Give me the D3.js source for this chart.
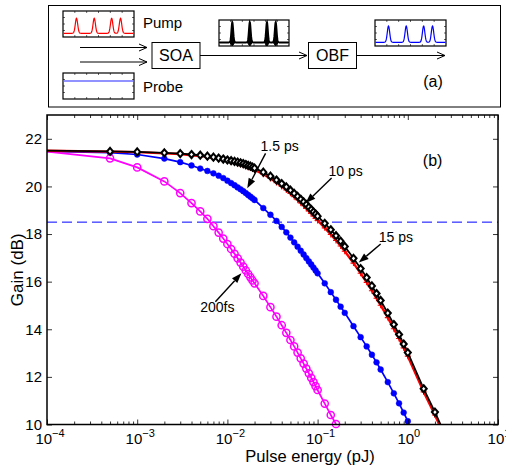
<!DOCTYPE html>
<html>
<head>
<meta charset="utf-8">
<script src="https://cdn.jsdelivr.net/npm/d3@7"></script>
<style>
  body { margin: 0; background: #fff; }
  svg { display: block; font-family: "Liberation Sans", Arial, sans-serif; }
</style>
</head>
<body>
<svg width="506" height="466"></svg>
<script>
// pulse energy grid (pJ), shared by all curves
const energy = [1e-4, 5e-4, 1e-3, 2e-3, 3e-3, 4e-3, 5e-3, 6e-3, 7e-3, 8e-3, 9e-3,
  0.010, 0.011, 0.012, 0.013, 0.014, 0.015, 0.016, 0.017, 0.018, 0.019, 0.020,
  0.025, 0.030, 0.035, 0.040, 0.045, 0.050, 0.055, 0.060, 0.065, 0.070, 0.075,
  0.080, 0.085, 0.090, 0.095, 0.100, 0.12, 0.14, 0.16, 0.18, 0.20,
  0.25, 0.30, 0.35, 0.40, 0.45, 0.50, 0.6, 0.7, 0.8, 0.9, 1.0, 1.5, 2.0, 2.5];

// gain (dB)
const gain200fs = [21.46, 21.18, 20.80, 20.21, 19.72, 19.30, 18.95, 18.64, 18.33, 18.06, 17.81,
  17.58, 17.37, 17.17, 16.98, 16.80, 16.63, 16.47, 16.32, 16.18, 16.05, 15.93,
  15.40, 14.93, 14.53, 14.17, 13.85, 13.55, 13.28, 13.02, 12.78, 12.56, 12.35,
  12.15, 11.96, 11.78, 11.61, 11.45, 10.88, 10.40, 10.02];

const gain1p5ps = [21.47, 21.42, 21.34, 21.17, 21.02, 20.88, 20.75, 20.65, 20.55, 20.45, 20.35,
  20.24, 20.14, 20.05, 19.96, 19.88, 19.80, 19.72, 19.64, 19.57, 19.50, 19.43,
  19.09, 18.81, 18.55, 18.30, 18.07, 17.85, 17.65, 17.47, 17.30, 17.14, 16.99,
  16.85, 16.72, 16.59, 16.47, 16.35, 15.93, 15.56, 15.24, 14.95, 14.69,
  14.13, 13.67, 13.28, 12.93, 12.61, 12.31, 11.78, 11.31, 10.89, 10.50, 10.14];

const gain10ps = [21.50, 21.46, 21.44, 21.39, 21.36, 21.31, 21.28, 21.24, 21.20, 21.15, 21.11,
  21.07, 21.03, 21.00, 20.96, 20.93, 20.89, 20.85, 20.81, 20.77, 20.73, 20.69,
  20.51, 20.33, 20.16, 20.00, 19.85, 19.71, 19.57, 19.44, 19.31, 19.19, 19.08,
  18.97, 18.86, 18.76, 18.66, 18.57, 18.26, 17.98, 17.73, 17.50, 17.28,
  16.78, 16.35, 15.97, 15.62, 15.30, 15.01, 14.49, 14.02, 13.61, 13.22, 12.87,
  11.37, 10.40, 9.58];

const gain15ps = [21.50, 21.47, 21.45, 21.41, 21.38, 21.34, 21.31, 21.27, 21.23, 21.19, 21.15,
  21.11, 21.08, 21.05, 21.02, 20.99, 20.96, 20.92, 20.88, 20.85, 20.81, 20.77,
  20.60, 20.43, 20.27, 20.12, 19.98, 19.84, 19.71, 19.58, 19.46, 19.35, 19.24,
  19.13, 19.03, 18.93, 18.84, 18.75, 18.45, 18.18, 17.93, 17.70, 17.48,
  16.98, 16.55, 16.17, 15.82, 15.50, 15.21, 14.68, 14.20, 13.78, 13.38, 13.02,
  11.50, 10.52, 9.70];

const gainRef = 18.5;
const yTicks = [10, 12, 14, 16, 18, 20, 22];
const xTickExps = [-4, -3, -2, -1, 0, 1];
// where the four pulses sit inside each little inset (fraction of width)
const pulseSlots = [0.19, 0.44, 0.685, 0.81];

(function (d3) {
  'use strict';
  const svg = d3.select('svg');
  const plot = { left: 47, right: 498, top: 115, bottom: 424.5 };

  const xScale = d3.scaleLog().domain([1e-4, 10]).range([plot.left, plot.right]);
  const yScale = d3.scaleLinear().domain([10, 23]).range([plot.bottom, plot.top]);

  // ---------- panel (a): schematic ----------
  const pa = svg.append('g').attr('fill', 'none').attr('stroke', 'black');
  pa.append('rect')
    .attr('x', 48.5).attr('y', 5.5).attr('width', 452).attr('height', 101.5);

  const inset = (x, y, w, h) => {
    pa.append('rect').attr('x', x).attr('y', y).attr('width', w).attr('height', h)
      .attr('stroke-width', 1.2);
    d3.range(1, 6).forEach(i => {
      const tx = x + i * w / 6;
      pa.append('line').attr('x1', tx).attr('x2', tx).attr('y1', y).attr('y2', y + 2).attr('stroke-width', 0.6);
      pa.append('line').attr('x1', tx).attr('x2', tx).attr('y1', y + h).attr('y2', y + h - 2).attr('stroke-width', 0.6);
    });
    d3.range(1, 4).forEach(i => {
      const ty = y + i * h / 4;
      pa.append('line').attr('x1', x).attr('x2', x + 2).attr('y1', ty).attr('y2', ty).attr('stroke-width', 0.6);
      pa.append('line').attr('x1', x + w).attr('x2', x + w - 2).attr('y1', ty).attr('y2', ty).attr('stroke-width', 0.6);
    });
  };

  const pulsePath = (x0, w, base, peak, sigma) => {
    const pts = d3.range(0.5, w - 0.4, 0.25).map(t => {
      const v = d3.sum(pulseSlots, s => Math.exp(-((t - s * w) ** 2) / (2 * sigma * sigma)));
      return [x0 + t, base - (base - peak) * v];
    });
    return d3.line()(pts);
  };

  const openArrow = (x1, y, x2) => {
    pa.append('line').attr('x1', x1).attr('x2', x2).attr('y1', y).attr('y2', y);
    pa.append('path').attr('d', `M${x2 - 8},${y - 3.5}L${x2},${y}L${x2 - 8},${y + 3.5}`);
  };

  // pump
  inset(63, 11, 71, 26);
  pa.append('path').attr('d', pulsePath(63, 71, 33.3, 18.3, 1.2))
    .attr('stroke', 'red').attr('stroke-width', 1.2);
  // probe
  inset(63, 73, 71, 26);
  pa.append('line').attr('x1', 63.5).attr('x2', 133.5).attr('y1', 81).attr('y2', 81)
    .attr('stroke', '#6c6cff').attr('stroke-width', 1.6);
  // SOA output
  inset(219, 20, 70, 26);
  pa.append('line').attr('x1', 219).attr('x2', 289).attr('y1', 42.5).attr('y2', 42.5);
  pa.append('path').attr('d', pulsePath(219, 70, 42.5, 22, 0.9))
    .attr('fill', 'black').attr('stroke-width', 1.8);
  pulseSlots.forEach(s => {
    const cx = 219 + s * 70;
    pa.append('path').attr('d', `M${cx - 2.5},42.5L${cx + 2.5},42.5L${cx},46Z`).attr('fill', 'black');
  });
  // filtered output
  inset(375, 20, 71, 26);
  pa.append('path').attr('d', pulsePath(375, 71, 42.3, 26, 1.2))
    .attr('stroke', 'blue').attr('stroke-width', 1.2);

  openArrow(80, 47.5, 147);
  openArrow(80, 62, 147);
  pa.append('rect').attr('x', 152).attr('y', 42.5).attr('width', 48).attr('height', 26);
  openArrow(200, 55.5, 307);
  pa.append('rect').attr('x', 308.5).attr('y', 42.5).attr('width', 48).attr('height', 26);
  openArrow(356.5, 55.5, 445);

  const ta = svg.append('g').attr('fill', 'black');
  ta.append('text').attr('x', 143).attr('y', 28).attr('font-size', 15).text('Pump');
  ta.append('text').attr('x', 143).attr('y', 91.5).attr('font-size', 15).text('Probe');
  ta.append('text').attr('x', 176).attr('y', 60.5).attr('font-size', 16)
    .attr('text-anchor', 'middle').text('SOA');
  ta.append('text').attr('x', 332.5).attr('y', 60.5).attr('font-size', 16)
    .attr('text-anchor', 'middle').text('OBF');
  ta.append('text').attr('x', 433).attr('y', 87).attr('font-size', 16)
    .attr('text-anchor', 'middle').text('(a)');

  // ---------- panel (b): gain curves ----------
  svg.append('clipPath').attr('id', 'plotClip')
    .append('rect')
      .attr('x', plot.left).attr('y', plot.top)
      .attr('width', plot.right - plot.left).attr('height', plot.bottom - plot.top);

  // reference gain
  svg.append('line')
    .attr('x1', plot.left).attr('x2', plot.right)
    .attr('y1', yScale(gainRef)).attr('y2', yScale(gainRef))
    .attr('stroke', 'blue').attr('stroke-width', 1)
    .attr('stroke-dasharray', '10,5');

  const series = [
    { gains: gain1p5ps, color: 'blue', width: 1.7, marker: 'dot' },
    { gains: gain200fs, color: 'magenta', width: 1.7, marker: 'circle' },
    { gains: gain10ps, color: 'red', width: 2.4, marker: 'plus' },
    { gains: gain15ps, color: 'black', width: 1.8, marker: 'diamond' }
  ];

  const line = d3.line()
    .x(d => xScale(d.e))
    .y(d => yScale(d.g));

  const markerShapes = {
    diamond: 'M0,-3.5L3,0L0,3.5L-3,0Z',
    plus: 'M-3,0H3M0,-3V3'
  };

  series.forEach(s => {
    const pts = s.gains.map((g, i) => ({ e: energy[i], g }));
    svg.append('path')
      .attr('clip-path', 'url(#plotClip)')
      .attr('d', line(pts))
      .attr('fill', 'none')
      .attr('stroke', s.color)
      .attr('stroke-width', s.width)
      .attr('stroke-linejoin', 'round');

    const shown = pts.filter((d, i) => i > 0 && d.g >= 10);
    const mg = svg.append('g');
    if (s.marker === 'dot' || s.marker === 'circle') {
      mg.selectAll('circle').data(shown)
        .enter().append('circle')
          .attr('cx', d => xScale(d.e))
          .attr('cy', d => yScale(d.g))
          .attr('r', s.marker === 'dot' ? 2.9 : 3.6)
          .attr('fill', s.marker === 'dot' ? s.color : 'none')
          .attr('stroke', s.color)
          .attr('stroke-width', s.marker === 'dot' ? 0.5 : 1.5);
    } else {
      mg.selectAll('path').data(shown)
        .enter().append('path')
          .attr('transform', d => `translate(${xScale(d.e)},${yScale(d.g)})`)
          .attr('d', markerShapes[s.marker])
          .attr('fill', s.marker === 'diamond' ? 'white' : 'none')
          .attr('stroke', s.color)
          .attr('stroke-width', s.marker === 'diamond' ? 2.1 : 1.1);
    }
  });

  // frame and ticks (MATLAB style, ticks inside)
  const majors = xTickExps.map(p => Math.pow(10, p));
  const minors = xScale.ticks().filter(v => !majors.some(m => Math.abs(m - v) / m < 1e-6));

  const stripAxis = g => {
    g.select('.domain').remove();
    g.selectAll('line').attr('stroke', 'black').attr('stroke-width', 0.8);
  };

  svg.append('g').attr('transform', `translate(0,${plot.bottom})`)
    .call(d3.axisBottom(xScale).tickValues(majors).tickSize(-5).tickFormat(''))
    .call(stripAxis);
  svg.append('g').attr('transform', `translate(0,${plot.bottom})`)
    .call(d3.axisBottom(xScale).tickValues(minors).tickSize(-3).tickFormat(''))
    .call(stripAxis);
  svg.append('g').attr('transform', `translate(0,${plot.top})`)
    .call(d3.axisTop(xScale).tickValues(majors).tickSize(-5).tickFormat(''))
    .call(stripAxis);
  svg.append('g').attr('transform', `translate(0,${plot.top})`)
    .call(d3.axisTop(xScale).tickValues(minors).tickSize(-3).tickFormat(''))
    .call(stripAxis);

  svg.append('g').attr('transform', `translate(${plot.left},0)`)
    .call(d3.axisLeft(yScale).tickValues(yTicks).tickSize(-5).tickPadding(5))
    .call(stripAxis)
    .call(g => g.selectAll('text')
      .attr('font-size', 15).attr('font-family', null).attr('fill', 'black'));
  svg.append('g').attr('transform', `translate(${plot.right},0)`)
    .call(d3.axisRight(yScale).tickValues(yTicks).tickSize(-5).tickFormat(''))
    .call(stripAxis);

  svg.append('rect')
    .attr('x', plot.left).attr('y', plot.top)
    .attr('width', plot.right - plot.left).attr('height', plot.bottom - plot.top)
    .attr('fill', 'none').attr('stroke', 'black').attr('stroke-width', 1.5);

  // x tick labels: 10^n
  const xLabels = svg.append('g');
  xTickExps.forEach(p => {
    const t = xLabels.append('text')
      .attr('x', xScale(Math.pow(10, p)) + (p < 0 ? 3 : 1))
      .attr('y', 443.5)
      .attr('text-anchor', 'middle')
      .attr('font-size', 15);
    t.append('tspan').text('10');
    t.append('tspan').attr('dy', -7).attr('font-size', 11)
      .text(p < 0 ? '\u2212' + (-p) : String(p));
  });

  svg.append('text')
    .attr('x', 310).attr('y', 461.5)
    .attr('text-anchor', 'middle').attr('font-size', 16.5)
    .text('Pulse energy (pJ)');
  svg.append('text')
    .attr('transform', `translate(23,${(plot.top + plot.bottom) / 2}) rotate(-90)`)
    .attr('text-anchor', 'middle').attr('font-size', 17)
    .text('Gain (dB)');

  // annotations, positioned in data coordinates
  const notes = [
    { label: '1.5 ps', text: [0.0233, 21.49], tail: [0.0265, 21.39], tip: [0.0166, 19.92] },
    { label: '10 ps', text: [0.132, 20.44], tail: [0.143, 20.35], tip: [0.0736, 19.30] },
    { label: '15 ps', text: [0.476, 17.68], tail: [0.50, 17.58], tip: [0.286, 16.80] },
    { label: '200fs', text: [0.005, 14.72], tail: [0.00736, 15.16], tip: [0.0143, 16.35] }
  ];
  const px = d => [xScale(d[0]), yScale(d[1])];
  notes.forEach(n => {
    const [x1, y1] = px(n.tail);
    const [x2, y2] = px(n.tip);
    const a = Math.atan2(y2 - y1, x2 - x1);
    const len = 10, half = 3.6;
    const bx = x2 - len * Math.cos(a), by = y2 - len * Math.sin(a);
    svg.append('line')
      .attr('x1', x1).attr('y1', y1).attr('x2', bx).attr('y2', by)
      .attr('stroke', 'black').attr('stroke-width', 1.4);
    svg.append('path')
      .attr('d', `M${x2},${y2}L${bx + half * Math.sin(a)},${by - half * Math.cos(a)}` +
                 `L${bx - half * Math.sin(a)},${by + half * Math.cos(a)}Z`)
      .attr('fill', 'black');
    const [tx, ty] = px(n.text);
    svg.append('text').attr('x', tx).attr('y', ty).attr('font-size', 14).text(n.label);
  });

  svg.append('text')
    .attr('x', xScale(1.468)).attr('y', yScale(20.86))
    .attr('font-size', 16).text('(b)');
}(d3));
</script>
</body>
</html>
